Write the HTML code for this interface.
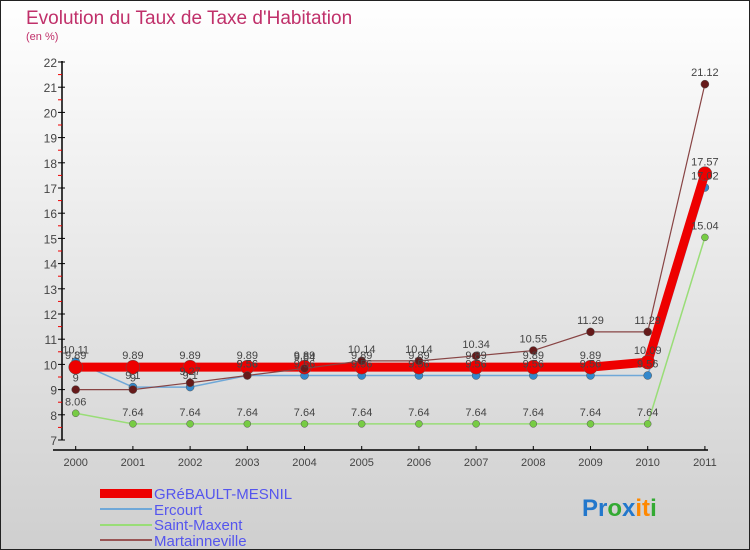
<!DOCTYPE html>
<html><head><meta charset="utf-8"><style>
body{margin:0}
#c{width:750px;height:550px;position:relative;overflow:hidden;font-family:"Liberation Sans",sans-serif}
</style></head><body>
<div id="c">
<svg id="s" width="750" height="550" xmlns="http://www.w3.org/2000/svg">
<defs><linearGradient id="bg" x1="0" y1="0" x2="0" y2="1"><stop offset="0" stop-color="#ffffff"/><stop offset="1" stop-color="#cfcfcf"/></linearGradient></defs>
<rect x="0.5" y="0.5" width="749" height="549" fill="url(#bg)" stroke="#222"/>
<text x="26" y="24" font-size="19" fill="#c0306a">Evolution du Taux de Taxe d'Habitation</text>
<text x="26" y="40" font-size="11" fill="#c0306a">(en %)</text>
<g id="axes"></g><g id="series"></g><g id="labels"></g>
<g font-size="15" fill="#5555ee">
<rect x="100" y="489" width="52" height="9" fill="#ee0000"/>
<text x="154" y="499">GRéBAULT-MESNIL</text>
<rect x="100" y="508" width="52" height="2" fill="#6fa8d8"/>
<text x="154" y="515">Ercourt</text>
<rect x="100" y="524" width="52" height="2" fill="#99dd77"/>
<text x="154" y="530">Saint-Maxent</text>
<rect x="100" y="539" width="52" height="2" fill="#995555"/>
<text x="154" y="546">Martainneville</text>
</g>
<text x="582" y="516" font-size="24" font-weight="bold"><tspan fill="#2277cc">Pr</tspan><tspan fill="#33aa33">o</tspan><tspan fill="#2277cc">x</tspan><tspan fill="#ff8800">it</tspan><tspan fill="#33aa33">i</tspan></text>
</svg>
</div>
<script>
const years=["2000","2001","2002","2003","2004","2005","2006","2007","2008","2009","2010","2011"];
const grebault=[9.89,9.89,9.89,9.89,9.89,9.89,9.89,9.89,9.89,9.89,10.09,17.57];
const ercourt=[10.11,9.1,9.1,9.56,9.56,9.56,9.56,9.56,9.56,9.56,9.56,17.02];
const saintMaxent=[8.06,7.64,7.64,7.64,7.64,7.64,7.64,7.64,7.64,7.64,7.64,15.04];
const martainneville=[9,9,9.27,9.56,9.84,10.14,10.14,10.34,10.55,11.29,11.29,21.12];
const yTicks=[7,8,9,10,11,12,13,14,15,16,17,18,19,20,21,22];
const NS="http://www.w3.org/2000/svg";
const X=i=>75.7+i*57.2;
const Y=v=>440-(v-7)*25.2;
function mk(tag,at,parent){const e=document.createElementNS(NS,tag);for(const k in at)e.setAttribute(k,at[k]);document.getElementById(parent).appendChild(e);return e;}
// axes
let a=mk('line',{x1:62,y1:61,x2:62,y2:440,stroke:'#000','stroke-width':1.5},'axes');


a=mk('line',{x1:53,y1:450,x2:708,y2:450,stroke:'#000','stroke-width':1.5},'axes');


yTicks.forEach(v=>{
 mk('line',{x1:58,y1:Y(v),x2:65,y2:Y(v),stroke:'#000'},'axes');
 if(v<22)mk('line',{x1:58,y1:Y(v+0.5),x2:62,y2:Y(v+0.5),stroke:'#e00'},'axes');
 const t=mk('text',{x:57,y:Y(v)+5,'font-size':12,fill:'#444','text-anchor':'end'},'axes');
 t.textContent=v;
 
 
});
years.forEach((y,i)=>{
 mk('line',{x1:X(i),y1:446,x2:X(i),y2:450,stroke:'#000'},'axes');
 const t=mk('text',{x:X(i),y:466,'font-size':11,fill:'#444','text-anchor':'middle'},'axes');
 t.textContent=y;
 
 
});
function series(name,data,color,w,r,dot){
 const p=mk('polyline',{points:data.map((v,i)=>X(i)+','+Y(v)).join(' '),fill:'none',stroke:color,'stroke-width':w},'series');
 
 
 data.forEach((v,i)=>{
  const c=mk('circle',{cx:X(i),cy:Y(v),r:r,fill:dot,stroke:'#555','stroke-width':0.5},'series');
  
  
  const t=mk('text',{x:X(i),y:Y(v)-8,'font-size':11,fill:'#444','text-anchor':'middle'},'labels');
  t.textContent=v;
  
  
 });
}
series('saint-maxent',saintMaxent,'#99dd77',1.5,3.5,'#77cc44');
series('ercourt',ercourt,'#6fa8d8',1.5,4,'#3388cc');
series('grebault',grebault,'#ee0000',9,7,'#ee0000');
series('martainneville',martainneville,'#884444',1.2,4,'#661a1a');
</script>
</body></html>
